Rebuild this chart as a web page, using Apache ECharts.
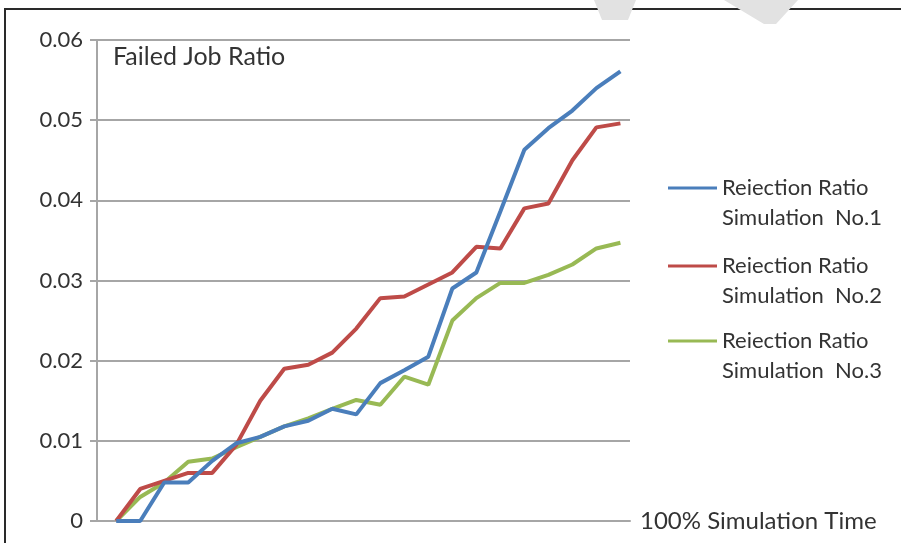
<!DOCTYPE html>
<html>
<head>
<meta charset="utf-8">
<script src="https://cdn.jsdelivr.net/npm/echarts@6/dist/echarts.min.js"></script>
<style>html,body{margin:0;padding:0;background:#fff;}#c{width:901px;height:543px;}</style>
</head>
<body>
<div id="c"></div>
<script>
// time steps (index positions along the simulation time axis)
const steps = ['1','2','3','4','5','6','7','8','9','10','11','12','13','14','15','16','17','18','19','20','21','22'];
const sim1 = [0, 0, 0.0048, 0.0048, 0.0075, 0.0097, 0.0105, 0.0118, 0.0125, 0.014, 0.0133, 0.0172, 0.0188, 0.0205, 0.029, 0.031, 0.0386, 0.0463, 0.049, 0.0512, 0.054, 0.0561];
const sim2 = [0, 0.004, 0.005, 0.006, 0.006, 0.0095, 0.015, 0.019, 0.0195, 0.021, 0.024, 0.0278, 0.028, 0.0295, 0.031, 0.0342, 0.034, 0.039, 0.0396, 0.045, 0.0491, 0.0496];
const sim3 = [0, 0.003, 0.0048, 0.0074, 0.0078, 0.0092, 0.0105, 0.0118, 0.0128, 0.014, 0.0151, 0.0145, 0.018, 0.017, 0.025, 0.0278, 0.0297, 0.0297, 0.0307, 0.032, 0.034, 0.0347];
const seriesNames = ['Reiection Ratio\nSimulation  No.1', 'Reiection Ratio\nSimulation  No.2', 'Reiection Ratio\nSimulation  No.3'];
const yTicks = [0, 0.01, 0.02, 0.03, 0.04, 0.05, 0.06];

const colors = ['#4a7ebb', '#be4b48', '#98b954'];
const font = 'Lato, "Open Sans", sans-serif';
const txt = '#333333';
const chart = echarts.init(document.getElementById('c'), null, {renderer: 'canvas'});
const mk = arr => arr.map((v, i) => [i, v]);
const legendTops = [143, 221, 296];
chart.setOption({
  backgroundColor: '#fff',
  animation: false,
  title: {text: 'Failed Job Ratio', left: 113, top: 44, padding: 0,
    textStyle: {fontFamily: font, fontSize: 25, fontWeight: 'normal', color: txt}},
  legend: seriesNames.map((n, i) => ({
    data: [n], orient: 'vertical', left: 668, top: legendTops[i], padding: 0,
    icon: 'rect', itemWidth: 49, itemHeight: 3, itemGap: 0, selectedMode: false,
    formatter: name => '\n' + name,
    textStyle: {fontFamily: font, fontSize: 22, color: txt, lineHeight: 30}
  })),
  grid: {left: 97, right: 271, top: 40, bottom: 22, containLabel: false},
  xAxis: {
    type: 'value', min: -0.8, max: 21.4,
    name: '100% Simulation Time', nameLocation: 'end', nameGap: 10,
    nameTextStyle: {fontFamily: font, fontSize: 24, color: txt, verticalAlign: 'middle', align: 'left'},
    axisLine: {show: true, onZero: false, lineStyle: {color: '#a6a6a6', width: 2}},
    axisTick: {show: false}, axisLabel: {show: false}, splitLine: {show: false}
  },
  yAxis: {
    type: 'value', min: 0, max: 0.06, interval: 0.01,
    axisLine: {show: true, onZero: false, lineStyle: {color: '#a6a6a6', width: 2}},
    axisTick: {show: true, length: 7, lineStyle: {color: '#a6a6a6', width: 2}},
    axisLabel: {margin: 14, fontFamily: font, fontSize: 22, color: txt,
      formatter: v => { const t = yTicks.find(x => Math.abs(x - v) < 1e-9); return t === 0 ? '0' : t.toFixed(2); }},
    splitLine: {show: true, lineStyle: {color: '#a6a6a6', width: 2}}
  },
  series: [sim1, sim2, sim3].map((d, i) => ({
    name: seriesNames[i], type: 'line', data: mk(d), showSymbol: false, symbol: 'none',
    lineStyle: {color: colors[i], width: 4}, itemStyle: {color: colors[i]}, z: 3 - i + 2
  })),
  graphic: [
    {type: 'rect', shape: {x: 5, y: 9, width: 1000, height: 1000}, style: {fill: 'none', stroke: '#2a2a2a', lineWidth: 2}, silent: true},
    {type: 'polygon', shape: {points: [[594,0],[636,0],[628,20],[602,20]]}, style: {fill: '#e2e2e2'}, silent: true},
    {type: 'polygon', shape: {points: [[724,0],[798,0],[776,24],[764,24]]}, style: {fill: '#e2e2e2'}, silent: true}
  ]
});
</script>
</body>
</html>
